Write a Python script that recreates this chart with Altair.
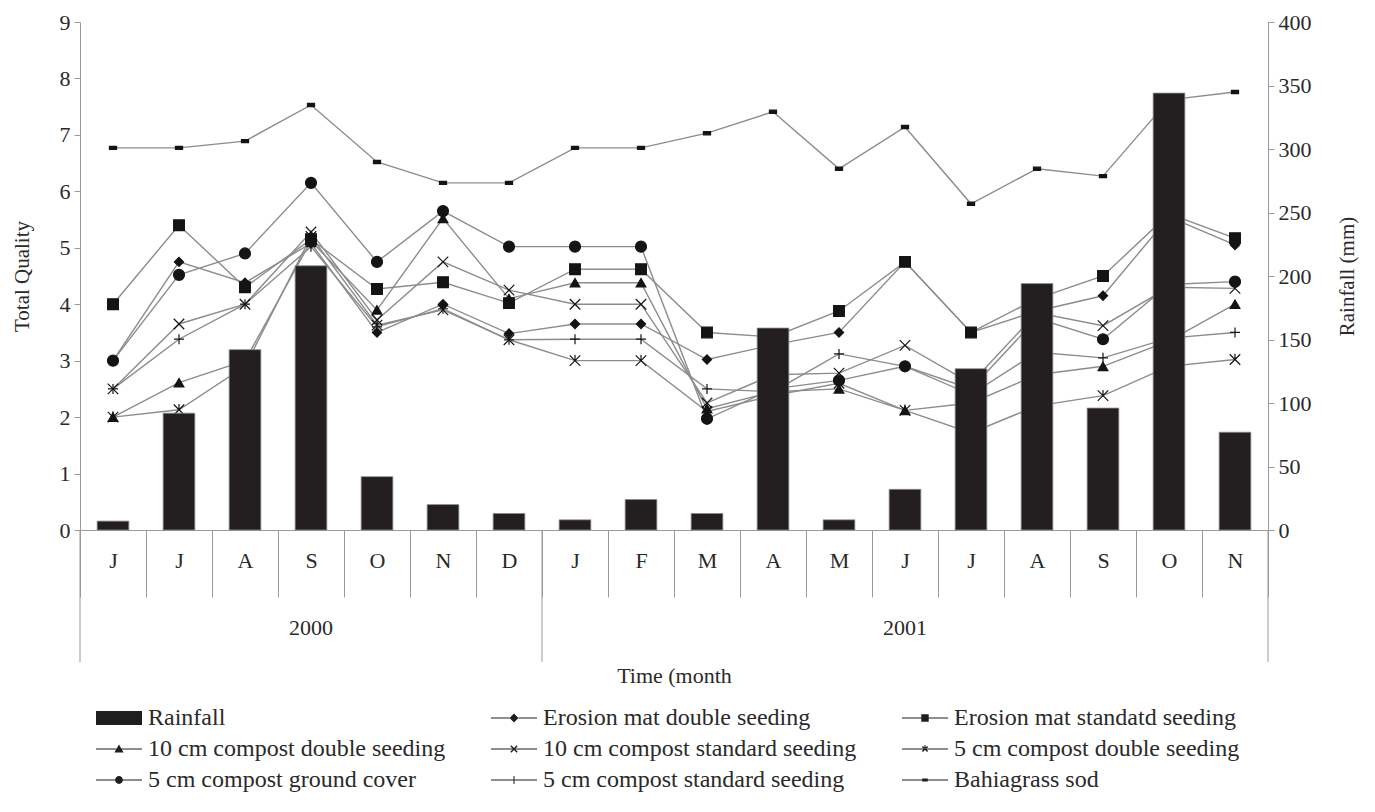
import json
import altair as alt
import pandas as pd

# ---------------- data ----------------
months = ["J", "J", "A", "S", "O", "N", "D", "J", "F", "M", "A", "M", "J", "J", "A", "S", "O", "N"]
years = ["2000"] * 7 + ["2001"] * 11
rainfall = [7, 92, 142, 208, 42, 20, 13, 8, 24, 13, 159, 8, 32, 127, 194, 96, 344, 77]

erosion_double = [3.0, 4.75, 4.38, 5.08, 3.5, 4.0, 3.48, 3.65, 3.65, 3.02, 3.28, 3.5, 4.75, 3.5, 3.88, 4.15, 5.55, 5.05]
erosion_standard = [4.0, 5.4, 4.3, 5.15, 4.27, 4.39, 4.02, 4.62, 4.62, 3.5, 3.42, 3.88, 4.75, 3.5, 4.1, 4.5, 5.6, 5.17]
c10_double = [2.0, 2.61, 3.0, 5.12, 3.9, 5.52, 4.1, 4.38, 4.38, 2.15, 2.45, 2.5, 2.12, 2.25, 2.75, 2.9, 3.35, 4.0]
c10_standard = [2.5, 3.65, 4.0, 5.28, 3.72, 4.75, 4.25, 4.0, 4.0, 2.25, 2.75, 2.78, 3.27, 2.6, 3.85, 3.62, 4.3, 4.28]
c5_double = [2.0, 2.13, 2.9, 5.2, 3.63, 3.9, 3.37, 3.0, 3.0, 2.1, 2.38, 2.6, 2.12, 1.72, 2.2, 2.38, 2.9, 3.02]
c5_ground = [3.0, 4.52, 4.9, 6.15, 4.75, 5.65, 5.02, 5.02, 5.02, 1.97, 2.5, 2.65, 2.9, 2.5, 3.75, 3.38, 4.35, 4.4]
c5_standard = [2.5, 3.38, 4.0, 5.02, 3.6, 3.92, 3.37, 3.38, 3.38, 2.5, 2.45, 3.12, 2.9, 2.4, 3.15, 3.05, 3.4, 3.5]
bahia = [6.77, 6.77, 6.89, 7.53, 6.52, 6.15, 6.15, 6.77, 6.77, 7.03, 7.41, 6.40, 7.14, 5.78, 6.40, 6.27, 7.62, 7.76]

series_names = [
    "Erosion mat double seeding",
    "Erosion mat standatd seeding",
    "10 cm compost double seeding",
    "10 cm compost standard seeding",
    "5 cm compost double seeding",
    "5 cm compost ground cover",
    "5 cm compost standard seeding",
    "Bahiagrass sod",
]
series_values = [erosion_double, erosion_standard, c10_double, c10_standard,
                 c5_double, c5_ground, c5_standard, bahia]

# ---------------- styles ----------------
X_PATH = "M-1,-1L1,1M-1,1L1,-1"
AST_PATH = "M-1,-1L1,1M-1,1L1,-1M0,-1.1L0,0"
PLUS_PATH = "M-1,0L1,0M0,-1L0,1"
DASH_PATH = "M-1,-0.45H1V0.45H-1Z"
markers = {
    "Erosion mat double seeding": ("diamond", 85),
    "Erosion mat standatd seeding": ("square", 115),
    "10 cm compost double seeding": ("triangle-up", 95),
    "10 cm compost standard seeding": (X_PATH, 110),
    "5 cm compost double seeding": (AST_PATH, 110),
    "5 cm compost ground cover": ("circle", 120),
    "5 cm compost standard seeding": (PLUS_PATH, 100),
    "Bahiagrass sod": (DASH_PATH, 50),
}

# legend symbols: drawn in pixel terms, converted to Vega's unit symbol space
U = 11.0          # half of nominal symbol width (symbolSize = (2U)^2)
SYM_W = 46.0      # drawn width of the legend sample
MC = SYM_W / 2    # marker centre, from the sample's left edge


def _pt(x, y):
    # x, y relative to the marker centre, in px
    return f"{(x + MC - U) / U:.4f},{y / U:.4f}"


def poly(pts):
    return "M" + "L".join(_pt(x, y) for x, y in pts) + "Z"


def rect(x0, y0, x1, y1):
    return poly([(x0, y0), (x1, y0), (x1, y1), (x0, y1)])


def seg(g, t=0.55):
    return rect(-MC, -t, -g, t) + rect(g, -t, MC, t)


def xshape(a, w=0.5):
    d1 = [(-a - w, -a + w), (a - w, a + w), (a + w, a - w), (-a + w, -a - w)]
    d2 = [(a + w, -a + w), (a - w, -a - w), (-a - w, a - w), (-a + w, a + w)]
    return poly(d1) + poly(d2)


def circle(r):
    return (f"M{_pt(r, 0)}A{r / U:.4f},{r / U:.4f} 0 1,1 {_pt(-r, 0)}"
            f"A{r / U:.4f},{r / U:.4f} 0 1,1 {_pt(r, 0)}Z")


legend_paths = [
    rect(-MC, -7, MC, 7),
    seg(4.4) + poly([(0, -4.4), (4.4, 0), (0, 4.4), (-4.4, 0)]),
    seg(3.7) + rect(-3.7, -3.7, 3.7, 3.7),
    seg(2.6) + poly([(0, -4.6), (4.6, 3.5), (-4.6, 3.5)]),
    seg(1.0) + xshape(3.2),
    seg(1.0) + xshape(2.6) + rect(-0.5, -3.9, 0.5, -0.6),
    seg(3.9) + circle(3.9),
    seg(0.5) + rect(-0.5, -3.9, 0.5, 3.9),
    seg(2.8) + rect(-2.8, -1.6, 2.8, 1.6),
]
legend_order = ["Rainfall"] + series_names

W, H = 1188, 508
FONT = "Liberation Serif"
GRAY = "#9a9a9a"
TXT = "#2a2a2a"

# ---------------- tables ----------------
n = len(months)
rain_df = pd.DataFrame({"idx": list(range(n)), "rain": rainfall})
rows = []
for name, vals in zip(series_names, series_values):
    shp, sz = markers[name]
    for i, v in enumerate(vals):
        rows.append({"idx": i, "series": name, "value": v, "marker": shp, "msize": sz})
q_df = pd.DataFrame(rows)

year_rows = []
bounds_start = []
for y in dict.fromkeys(years):
    ids = [i for i, yy in enumerate(years) if yy == y]
    first, cnt = ids[0], len(ids)
    year_rows.append({"idx": first + cnt // 2, "year": y})
    bounds_start.append({"idx": first})
year_df = pd.DataFrame(year_rows)
start_df = pd.DataFrame(bounds_start)
end_df = pd.DataFrame({"idx": [n - 1]})

label_expr = json.dumps(months) + "[datum.value]"
x_scale = alt.Scale(domain=list(range(n)), paddingInner=0, paddingOuter=0)
x_axis = alt.Axis(
    title="Time (month", labelExpr=label_expr, labelAngle=0, tickBand="extent",
    tickSize=67, labelPadding=-47, labelFontSize=22, labelColor=TXT,
    titleFontSize=22, titleFontWeight="normal", titleColor=TXT, titlePadding=68,
    domainColor=GRAY, tickColor=GRAY, grid=False, labelFont=FONT, titleFont=FONT,
)


def xenc(band=0.5):
    return alt.X("idx:O", scale=x_scale, axis=x_axis, bandPosition=band)


lines = alt.Chart(q_df).mark_line(color="#8c8c8c", strokeWidth=1.4).encode(
    x=xenc(),
    y=alt.Y("value:Q", scale=alt.Scale(domain=[0, 9], nice=False),
            axis=alt.Axis(orient="left", values=list(range(10)), format="d",
                          title="Total Quality",
                          tickSize=6, tickColor=GRAY, domainColor=GRAY, grid=False,
                          labelFontSize=22, labelColor=TXT, titleFontSize=21,
                          titleFontWeight="normal", titleColor=TXT, titlePadding=27,
                          labelPadding=4, labelFont=FONT, titleFont=FONT)),
    detail="series:N",
)
points = alt.Chart(q_df).mark_point(filled=True, fill="#141414", stroke="#141414",
                                    strokeWidth=1.2, opacity=1).encode(
    x=xenc(),
    y=alt.Y("value:Q"),
    shape=alt.Shape("marker:N", scale=None),
    size=alt.Size("msize:Q", scale=None),
)
quality = alt.layer(lines, points)

bars = alt.Chart(rain_df).mark_bar(width={"band": 0.48}, color="#231f20",
                                   stroke="#8a8a8a", strokeWidth=0.8).encode(
    x=xenc(),
    y=alt.Y("rain:Q", scale=alt.Scale(domain=[0, 400], nice=False),
            axis=alt.Axis(orient="right", values=list(range(0, 401, 50)), format="d",
                          title="Rainfall (mm)",
                          titleAngle=270, tickSize=6, tickColor=GRAY, domainColor=GRAY,
                          grid=False, labelFontSize=22, labelColor=TXT, titleFontSize=21,
                          titleFontWeight="normal", titleColor=TXT, titlePadding=46,
                          labelPadding=4, labelFont=FONT, titleFont=FONT)),
)

rule_start = alt.Chart(start_df).mark_rule(color=GRAY, strokeWidth=1).encode(
    x=xenc(0), y=alt.value(H), y2=alt.value(H + 132))
rule_end = alt.Chart(end_df).mark_rule(color=GRAY, strokeWidth=1).encode(
    x=xenc(1), y=alt.value(H), y2=alt.value(H + 132))
year_text = alt.Chart(year_df).mark_text(font=FONT, fontSize=22, color=TXT,
                                         baseline="middle").encode(
    x=xenc(0.5), y=alt.value(H + 98), text="year:N")

legend_layer = alt.Chart(pd.DataFrame({"series": legend_order})).transform_filter(
    "false").mark_point(filled=True, fill="#1e1e1e", opacity=1).encode(
    shape=alt.Shape("series:N", scale=alt.Scale(domain=legend_order, range=legend_paths),
                    legend=alt.Legend(title=None, orient="none", legendX=15, legendY=684,
                                      direction="horizontal",
                                      columns=3, columnPadding=44, rowPadding=7,
                                      symbolSize=(2 * U) ** 2, symbolStrokeWidth=0,
                                      symbolOpacity=1,
                                      symbolFillColor="#1e1e1e",
                                      labelFont=FONT, labelFontSize=24, labelColor=TXT,
                                      labelLimit=600, labelOffset=SYM_W + 5 - 2 * U,
                                      gridAlign="each")))

chart = alt.layer(quality, bars, rule_start, rule_end, year_text, legend_layer).resolve_scale(
    y="independent", shape="independent", size="independent"
).properties(
    width=W, height=H,
    autosize=alt.AutoSizeParams(type="none"),
    padding={"left": 72, "top": 14, "right": 95, "bottom": 272},
).configure(font=FONT).configure_view(stroke=None)

chart.save("out.html", embed_options={"renderer": "svg", "actions": False})
